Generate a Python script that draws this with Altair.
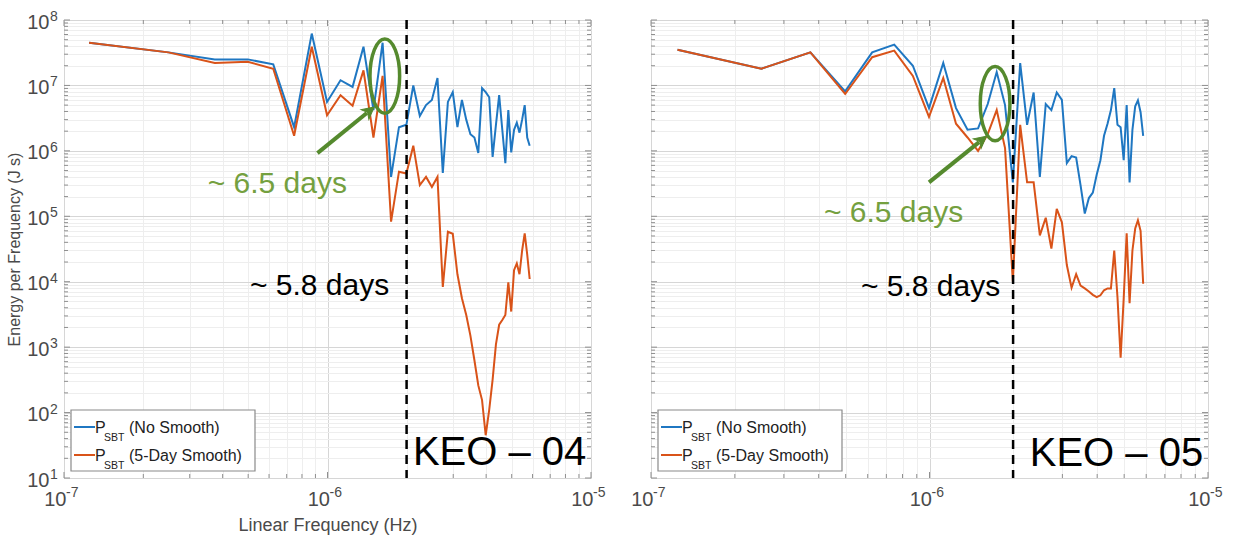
import altair as alt
import pandas as pd

# ---------------- data ----------------
# frequency grid (units of 1e-7 Hz), one value per spectral estimate
FREQ_E7 = [1.245, 2.49, 3.735, 4.98, 6.225, 7.47, 8.715, 9.96, 11.205, 12.45,
           13.695, 14.94, 16.185, 17.43, 18.675, 19.92, 21.165, 22.41, 23.655, 24.9,
           26.145, 27.39, 28.635, 29.88, 31.125, 32.37, 33.615, 34.86, 36.105, 37.35,
           38.595, 39.84, 41.085, 42.33, 43.575, 44.82, 46.065, 47.31, 48.555, 49.8,
           51.045, 52.29, 53.535, 54.78, 56.025, 57.27, 58.515]

KEO04_NO_SMOOTH = [4.5e7, 3.2e7, 2.5e7, 2.5e7, 2.1e7, 2.3e6, 6.2e7, 5.6e6, 1.2e7, 9.5e6,
                   3.9e7, 4.2e6, 4.5e7, 4.0e5, 2.3e6, 2.5e6, 1.0e7, 3.4e6, 5.0e6, 6.0e6,
                   1.3e7, 4.6e5, 5.6e6, 7.9e6, 2.3e6, 6.0e6, 3.0e6, 1.8e6, 1.6e6, 9.3e5,
                   9.1e6, 7.9e6, 6.6e6, 8.1e5, 2.5e6, 7.1e6, 2.1e6, 6.5e5, 4.2e6, 9.5e5,
                   2.1e6, 2.7e6, 1.9e6, 3.0e6, 5.0e6, 1.6e6, 1.2e6]
KEO04_SMOOTH = [4.5e7, 3.2e7, 2.2e7, 2.3e7, 1.8e7, 1.7e6, 3.9e7, 3.5e6, 7.1e6, 4.9e6,
                1.7e7, 1.6e6, 1.4e7, 8.3e4, 4.8e5, 4.5e5, 1.2e6, 3.0e5, 4.0e5, 2.8e5,
                4.0e5, 8.3e3, 5.8e4, 5.4e4, 1.3e4, 5.6e3, 3.1e3, 1.5e3, 630, 260,
                155, 45, 110, 320, 1.1e3, 2.2e3, 2.6e3, 3.1e3, 9.8e3, 3.5e3,
                1.5e4, 1.9e4, 1.3e4, 3.0e4, 5.5e4, 2.6e4, 1.1e4]
KEO05_NO_SMOOTH = [3.5e7, 1.8e7, 3.2e7, 8.1e6, 3.2e7, 4.2e7, 2.0e7, 4.5e6, 2.2e7, 4.5e6,
                   2.1e6, 2.2e6, 5.2e6, 1.6e7, 5.0e6, 3.3e5, 2.2e7, 2.5e6, 7.8e6, 4.0e5,
                   5.2e6, 4.2e6, 7.8e6, 6.0e6, 6.5e5, 8.3e5, 7.9e5, 3.0e5, 1.1e5, 1.9e5,
                   2.3e5, 4.3e5, 7.2e5, 1.7e6, 2.6e6, 4.2e6, 9.1e6, 2.5e6, 2.3e6, 7.2e5,
                   5.0e6, 3.3e5, 2.1e6, 4.8e6, 5.9e6, 3.9e6, 1.7e6]
KEO05_SMOOTH = [3.5e7, 1.8e7, 3.2e7, 7.4e6, 2.7e7, 3.4e7, 1.4e7, 3.3e6, 1.3e7, 2.6e6,
                1.6e6, 1.0e6, 1.8e6, 4.2e6, 1.1e6, 1.0e4, 2.5e6, 3.3e5, 3.3e5, 5.1e4,
                9.5e4, 3.2e4, 1.3e5, 8.1e4, 1.8e4, 8.1e3, 1.3e4, 8.7e3, 7.9e3, 7.1e3,
                6.3e3, 5.8e3, 6.2e3, 7.4e3, 7.9e3, 7.9e3, 3.0e4, 5.8e3, 690, 5.5e3,
                5.5e4, 4.7e3, 3.0e4, 6.5e4, 8.7e4, 6.0e4, 9.3e3]

PERIOD_LINE_HZ = 1.996e-6          # ~5.8 days
COLORS = ["#1f77c2", "#d95319"]
GREEN_TEXT = "#74a03f"
GREEN_SHAPE = "#558a2e"

X_MAJOR = [1e-7, 1e-6, 1e-5]
X_EXP = ["-7", "-6", "-5"]
Y_MAJOR = [1e1, 1e2, 1e3, 1e4, 1e5, 1e6, 1e7, 1e8]
Y_EXP = ["1", "2", "3", "4", "5", "6", "7", "8"]
X_MINOR = [m * 10.0 ** e for e in (-7, -6) for m in range(2, 10)]
Y_MINOR = [m * 10.0 ** e for e in range(1, 8) for m in range(2, 10)]
X_TICKS = sorted(X_MAJOR + X_MINOR)
Y_TICKS = sorted(Y_MAJOR + Y_MINOR)

# annotation anchors in data units (freq Hz, energy J s)
ANN = {
    "KEO – 04": dict(
        days65=(6.45e-7, 2.3e5), days58=(9.33e-7, 6.2e3), keo=(4.5e-6, 15.7),
        ellipse=(1.65e-6, 1.39e7), arrow=(9.16e-7, 9.25e5, 1.41e-6, 3.79e6)),
    "KEO – 05": dict(
        days65=(7.43e-7, 8.07e4), days58=(1.009e-6, 6.15e3), keo=(4.69e-6, 15.3),
        ellipse=(1.72e-6, 5.26e6), arrow=(9.96e-7, 3.30e5, 1.507e-6, 1.36e6)),
}

MAJOR_TEST = "abs(log(datum.value)/LN10 - round(log(datum.value)/LN10)) < 0.001"
LABEL_EXPR = f"({MAJOR_TEST}) ? '10' : ''"
GRID_COLOR = {"condition": {"test": MAJOR_TEST, "value": "#d6d6d6"}, "value": "#eeeeee"}
FONT = "Liberation Sans"
LABEL_COLOR = "#4a4a4a"
FRAME = "#8f8f8f"


def panel(name, no_smooth, smooth, width, height, first):
    freqs = [v * 1e-7 for v in FREQ_E7]
    xscale = alt.Scale(type="log", domain=[1e-7, 1e-5], nice=False)
    yscale = alt.Scale(type="log", domain=[1e1, 1e8], nice=False)
    xaxis = alt.Axis(values=X_TICKS, labelExpr=LABEL_EXPR, labelAlign="right",
                     labelOffset=2, labelOverlap=False, grid=True, gridColor=GRID_COLOR,
                     ticks=False, domain=False, labelFontSize=20, labelColor=LABEL_COLOR,
                     labelFont=FONT, labelPadding=11,
                     title="Linear Frequency (Hz)" if first else None,
                     titleFontSize=18, titleFontWeight="normal", titleColor=LABEL_COLOR,
                     titleFont=FONT, titlePadding=7)
    yaxis = alt.Axis(values=Y_TICKS, labelExpr=LABEL_EXPR, labelOverlap=False,
                     grid=True, gridColor=GRID_COLOR, ticks=False, domain=False,
                     labels=first, labelFontSize=20, labelColor=LABEL_COLOR,
                     labelFont=FONT, labelPadding=15, labelOffset=2,
                     title="Energy per Frequency (J s)" if first else None,
                     titleFontSize=16, titleFontWeight="normal", titleColor=LABEL_COLOR,
                     titleFont=FONT, titlePadding=4)
    X = alt.X("f:Q", scale=xscale, axis=xaxis)
    Y = alt.Y("e:Q", scale=yscale, axis=yaxis)

    layers = []
    for vals, col in ((no_smooth, COLORS[0]), (smooth, COLORS[1])):
        df = pd.DataFrame({"f": freqs, "e": vals})
        layers.append(alt.Chart(df).mark_line(color=col, strokeWidth=2, clip=True)
                      .encode(x=X, y=Y))

    # inward tick marks on all four sides (MATLAB box style)
    for vals, ln in ((X_MAJOR, 6), (X_MINOR, 4)):
        dfx = pd.DataFrame({"f": vals})
        for y0, y1 in ((height, height - ln), (0, ln)):
            layers.append(alt.Chart(dfx).mark_rule(color=FRAME, strokeWidth=1)
                          .encode(x=X, y=alt.value(y0), y2=alt.value(y1)))
    for vals, ln in ((Y_MAJOR, 6), (Y_MINOR, 4)):
        dfy = pd.DataFrame({"e": vals})
        for x0, x1 in ((0, ln), (width, width - ln)):
            layers.append(alt.Chart(dfy).mark_rule(color=FRAME, strokeWidth=1)
                          .encode(y=Y, x=alt.value(x0), x2=alt.value(x1)))

    # exponents of the tick labels
    layers.append(alt.Chart(pd.DataFrame({"f": X_MAJOR, "t": X_EXP}))
                  .mark_text(align="left", baseline="alphabetic", fontSize=14, font=FONT,
                             color=LABEL_COLOR, dx=2)
                  .encode(x=X, y=alt.value(height + 19), text="t:N"))
    if first:
        layers.append(alt.Chart(pd.DataFrame({"e": Y_MAJOR, "t": Y_EXP}))
                      .mark_text(align="left", baseline="alphabetic", fontSize=14, font=FONT,
                                 color=LABEL_COLOR, dy=1)
                      .encode(x=alt.value(-14), y=Y, text="t:N"))

    layers.append(alt.Chart(pd.DataFrame({"f": [PERIOD_LINE_HZ]}))
                  .mark_rule(color="black", strokeWidth=2.5, strokeDash=[9, 6])
                  .encode(x=X))

    a = ANN[name]
    txt = pd.DataFrame({
        "f": [a["days65"][0], a["days58"][0], a["keo"][0]],
        "e": [a["days65"][1], a["days58"][1], a["keo"][1]],
        "label": ["~ 6.5 days", "~ 5.8 days", name],
        "size": [30, 30, 40],
        "color": [GREEN_TEXT, "black", "black"],
    })
    layers.append(alt.Chart(txt).mark_text(align="center", baseline="alphabetic", font=FONT)
                  .encode(x=X, y=Y, text="label:N",
                          size=alt.Size("size:Q", scale=None, legend=None),
                          color=alt.Color("color:N", scale=None, legend=None)))

    ell = pd.DataFrame({"f": [a["ellipse"][0]], "e": [a["ellipse"][1]]})
    layers.append(alt.Chart(ell).mark_point(
        shape="M 0 -1 A 0.4 1 0 1 1 0 1 A 0.4 1 0 1 1 0 -1 Z",
        filled=False, stroke=GREEN_SHAPE, strokeWidth=3.5, size=5500, opacity=1)
        .encode(x=X, y=Y))

    f0, e0, f1, e1 = a["arrow"]
    arr = pd.DataFrame({"f": [f0], "e": [e0], "f2": [f1], "e2": [e1]})
    layers.append(alt.Chart(arr).mark_rule(color=GREEN_SHAPE, strokeWidth=4)
                  .encode(x=X, y=Y, x2="f2:Q", y2="e2:Q"))
    head = pd.DataFrame({"f": [f1], "e": [e1]})
    layers.append(alt.Chart(head).mark_point(
        shape="M 0 -1 L 0.65 0.25 L 0 -0.1 L -0.65 0.25 Z", filled=True,
        fill=GREEN_SHAPE, stroke=GREEN_SHAPE, strokeWidth=1, size=360, angle=51, opacity=1)
        .encode(x=X, y=Y))

    # legend box (drawn in plot-pixel units)
    one = pd.DataFrame({"a": [0]})
    bx0, by0, bx1, by1 = (7, 390, 191, 451)
    layers.append(alt.Chart(one).mark_rect(fill="white", stroke="#8a8a8a", strokeWidth=1.2)
                  .encode(x=alt.value(bx0), x2=alt.value(bx1), y=alt.value(by0), y2=alt.value(by1)))
    rows = [(407, "(No Smooth)", COLORS[0]), (435, "(5-Day Smooth)", COLORS[1])]
    for ly, lbl, col in rows:
        layers.append(alt.Chart(one).mark_rule(color=col, strokeWidth=2)
                      .encode(x=alt.value(bx0 + 3), x2=alt.value(bx0 + 24), y=alt.value(ly)))
        layers.append(alt.Chart(one).mark_text(text="P", align="left", baseline="alphabetic",
                                               fontSize=16, font=FONT, color="#222")
                      .encode(x=alt.value(bx0 + 24), y=alt.value(ly + 6)))
        layers.append(alt.Chart(one).mark_text(text="SBT", align="left", baseline="alphabetic",
                                               fontSize=10.5, font=FONT, color="#222")
                      .encode(x=alt.value(bx0 + 33), y=alt.value(ly + 14)))
        layers.append(alt.Chart(one).mark_text(text=lbl, align="left", baseline="alphabetic",
                                               fontSize=16, font=FONT, color="#222")
                      .encode(x=alt.value(bx0 + 58), y=alt.value(ly + 6)))

    return alt.layer(*layers).properties(width=width, height=height)


left = panel("KEO – 04", KEO04_NO_SMOOTH, KEO04_SMOOTH, 527, 458, True)
right = panel("KEO – 05", KEO05_NO_SMOOTH, KEO05_SMOOTH, 557, 458, False)

chart = (alt.hconcat(left, right, spacing=60, bounds="flush")
         .properties(padding={"left": 6, "top": 9, "right": 5, "bottom": 4})
         .configure_view(stroke=FRAME, strokeWidth=1.3)
         .configure(background="white"))

chart.save("out.html", embed_options={"renderer": "svg", "actions": False})
